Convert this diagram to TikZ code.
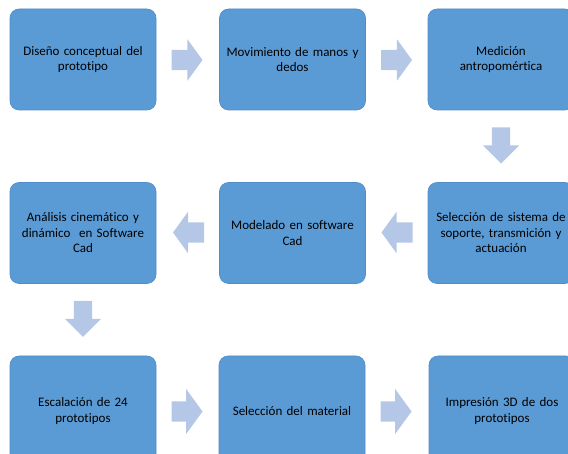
\documentclass[tikz,border=0pt]{standalone}
\usepackage{fontspec}
\setmainfont{Carlito}[RawFeature={-liga}]
\usetikzlibrary{shapes.arrows,calc}
\definecolor{boxfill}{HTML}{5B9BD5}
\definecolor{boxline}{HTML}{4F8CC9}
\definecolor{arrfill}{HTML}{B4C7E7}
\begin{document}
\begin{tikzpicture}[x=1pt,y=-1pt,
  stepbox/.style={rectangle, rounded corners=9pt, fill=boxfill, draw=boxline, line width=0.6pt,
    minimum width=146pt, minimum height=101pt, text width=140pt, align=center, inner sep=0pt,
    font=\fontsize{13}{15.5}\selectfont},
  lowbox/.style={stepbox, minimum height=110pt},
  harrow/.style={single arrow, fill=arrfill, draw=none, inner xsep=0pt, inner ysep=10pt, minimum height=31pt,
    minimum width=41pt, single arrow head extend=10.5pt, single arrow head indent=0pt, single arrow tip angle=108, anchor=tail},
  varrow/.style={single arrow, fill=arrfill, draw=none, inner sep=9pt, minimum height=36pt,
    minimum width=36pt, single arrow head extend=9pt, single arrow head indent=0pt, shape border rotate=270, anchor=tail}]
\clip (0,0) rectangle (568,454);
\useasboundingbox (0,0) rectangle (568,454);
\node[stepbox] (b1) at (83,59.5) {Diseño conceptual del\\prototipo};
\node[stepbox] (b2) at (292.5,59.5) {Movimiento de manos y\\dedos};
\node[stepbox] (b3) at (501,59.5) {Medición\\antropomértica};
\node[stepbox] (b4) at (83,233) {Análisis cinemático y\\dinámico\ \ en Software\\Cad};
\node[stepbox] (b5) at (292.5,233) {Modelado en software\\Cad};
\node[stepbox] (b6) at (501,233) {Selección de sistema de\\soporte, transmición y\\actuación};
\node[lowbox] (b7) at (83,411) {Escalación de 24\\prototipos};
\node[lowbox] (b8) at (292,411) {Selección del material};
\node[lowbox] (b9) at (502,411) {Impresión 3D de dos\\prototipos};
\node[harrow] (a1) at ($(b1.east)+(15,0.5)$) {};
\node[harrow] (a2) at ($(b2.east)+(15,0.5)$) {};
\node[varrow] (a3) at ($(b3.south)+(0,17)$) {};
\node[harrow, shape border rotate=180] (a4) at ($(b5.west)+(-15,-0.5)$) {};
\node[harrow, shape border rotate=180] (a5) at ($(b6.west)+(-15,-0.5)$) {};
\node[varrow] (a6) at ($(b4.south)+(0,17)$) {};
\node[harrow, minimum width=45pt, single arrow head extend=12.5pt] (a7) at ($(b7.east)+(15,0.5)$) {};
\node[harrow, minimum width=45pt, single arrow head extend=12.5pt] (a8) at ($(b8.east)+(15,0.5)$) {};
\end{tikzpicture}
\end{document}
